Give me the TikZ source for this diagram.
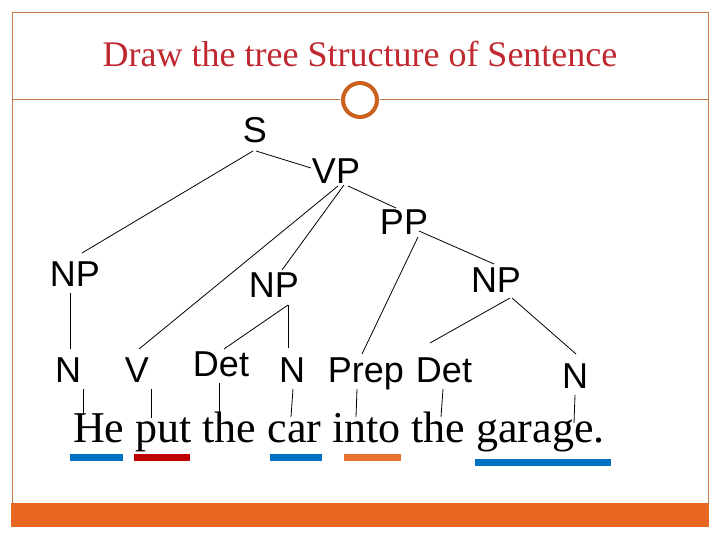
\documentclass[tikz,border=0pt]{standalone}
\usepackage{fontspec}
\setmainfont{Liberation Serif}
\newfontfamily\labfont{Liberation Sans}
\definecolor{framecol}{RGB}{192,120,76}
\definecolor{barorange}{RGB}{230,102,34}
\definecolor{circcol}{RGB}{202,96,30}
\definecolor{titlered}{RGB}{192,40,48}
\definecolor{ubblue}{RGB}{0,112,192}
\definecolor{ubred}{RGB}{192,0,0}
\definecolor{uborange}{RGB}{232,114,50}
\begin{document}
\begin{tikzpicture}[x=1pt,y=-1pt,
  lab/.style={font=\labfont\fontsize{36}{40}\selectfont, inner sep=0pt, anchor=base},
  edge/.style={draw=black, line width=0.8pt},
  rule/.style={draw=framecol, line width=1pt},
  ubar/.style={fill=#1}]
\useasboundingbox (0,0) rectangle (720,540);
\fill[white] (0,0) rectangle (720,540);
% frame and footer bar
\draw[rule] (12,503) -- (12,13) -- (708,13) -- (708,503);
\fill[barorange] (11,503) rectangle (709,527);
% title
\node[font=\fontsize{36}{40}\selectfont, text=titlered, inner sep=0pt, anchor=base] (title) at (360,67) {Draw the tree Structure of Sentence};
\node[circle, draw=circcol, line width=4pt, minimum size=34pt, inner sep=0pt] (circ) at (360,100) {};
\coordinate (tl) at (12,100);
\coordinate (tr) at (708,100);
\draw[rule, shorten >=1pt] (tl) -- (circ.west);
\draw[rule, shorten >=1pt] (tr) -- (circ.east);
% tree labels
\node[lab] (S) at (255,143) {S};
\node[lab] (VP) at (336,184) {VP};
\node[lab] (PP) at (404,234) {PP};
\node[lab] (NPa) at (75,286) {NP};
\node[lab] (NPb) at (274,297) {NP};
\node[lab] (NPc) at (496,292) {NP};
\node[lab] (Na) at (68,382) {N};
\node[lab] (V) at (137,382) {V};
\node[lab] (Deta) at (221,376) {Det};
\node[lab] (Nb) at (292,382) {N};
\node[lab] (Prep) at (366,382) {Prep};
\node[lab] (Detb) at (444,382) {Det};
\node[lab] (Nc) at (575,388) {N};
% sentence
\node[font=\fontsize{44}{50}\selectfont, inner sep=0pt, anchor=base west] (sent) at (73,442) {He put the car into the garage.};
% connector end points
\coordinate (S-b1) at (253,151);
\coordinate (S-b2) at (256,151);
\coordinate (NPa-t) at (82,253);
\coordinate (VP-t) at (311,168);
\coordinate (VP-b1) at (338,186);
\coordinate (VP-b2) at (344,185);
\coordinate (VP-b3) at (348,186);
\coordinate (V-t) at (139,349);
\coordinate (NPb-t) at (282,270);
\coordinate (PP-t) at (396,208);
\coordinate (PP-b1) at (418,237);
\coordinate (PP-b2) at (419,231);
\coordinate (Prep-t) at (362,354);
\coordinate (NPc-t) at (494,264);
\coordinate (NPc-b1) at (510,298);
\coordinate (NPc-b2) at (512,298);
\coordinate (Detb-t) at (430,343);
\coordinate (Nc-t) at (576,354);
\coordinate (NPb-b) at (288,305);
\coordinate (Deta-t) at (224,349);
\coordinate (Nb-t) at (288,348);
\coordinate (NPa-b) at (70,293);
\coordinate (Na-t) at (70,349);
% tree edges
\draw[edge] (S-b1) -- (NPa-t);
\draw[edge] (S-b2) -- (VP-t);
\draw[edge] (VP-b1) -- (V-t);
\draw[edge] (VP-b2) -- (NPb-t);
\draw[edge] (VP-b3) -- (PP-t);
\draw[edge] (PP-b1) -- (Prep-t);
\draw[edge] (PP-b2) -- (NPc-t);
\draw[edge] (NPc-b1) -- (Detb-t);
\draw[edge] (NPc-b2) -- (Nc-t);
\draw[edge] (NPb-b) -- (Deta-t);
\draw[edge] (NPb-b) -- (Nb-t);
\draw[edge] (NPa-b) -- (Na-t);
% ticks to words
\coordinate (Na-b) at (83,389);   \coordinate (w1) at (83,415);
\coordinate (V-b) at (151,389);   \coordinate (w2) at (151,418);
\coordinate (Deta-b) at (219,383);\coordinate (w3) at (219,417);
\coordinate (Nb-b) at (293,389);  \coordinate (w4) at (291,417);
\coordinate (Prep-b) at (357,389);\coordinate (w5) at (356,417);
\coordinate (Detb-b) at (443,389);\coordinate (w6) at (441,417);
\coordinate (Nc-b) at (575,395);  \coordinate (w7) at (574,423);
\draw[edge] (Na-b) -- (w1);
\draw[edge] (V-b) -- (w2);
\draw[edge] (Deta-b) -- (w3);
\draw[edge] (Nb-b) -- (w4);
\draw[edge] (Prep-b) -- (w5);
\draw[edge] (Detb-b) -- (w6);
\draw[edge] (Nc-b) -- (w7);
% underline bars
\fill[ubar=ubblue] (70,454) rectangle (123,461);
\fill[ubar=ubred] (134,454) rectangle (190,461);
\fill[ubar=ubblue] (270,454) rectangle (322,461);
\fill[ubar=uborange] (344,454) rectangle (401,461);
\fill[ubar=ubblue] (475,459) rectangle (611,466);
\end{tikzpicture}
\end{document}
